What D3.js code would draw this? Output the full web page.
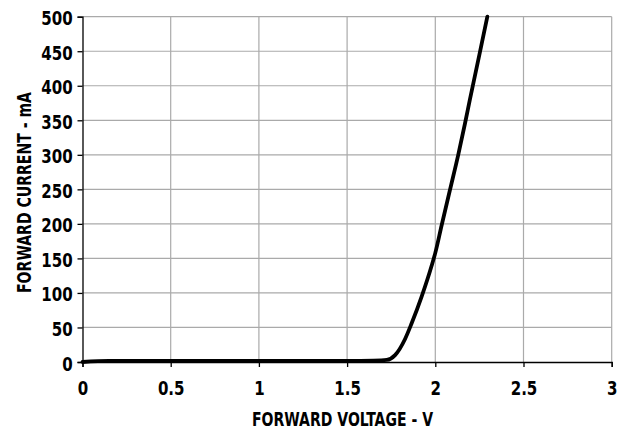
<!DOCTYPE html>
<html>
<head>
<meta charset="utf-8">
<script src="https://cdn.jsdelivr.net/npm/d3@7"></script>
<style>
  html, body { margin: 0; padding: 0; background: #fff; }
  svg text { font-family: "DejaVu Sans Condensed", "DejaVu Sans", sans-serif; font-weight: bold; fill: #000; }
</style>
</head>
<body>
<svg id="chart" width="623" height="431"></svg>
<script>
// Forward voltage (V) vs forward current (mA)
const voltage = [0, 0.15, 0.5, 1.0, 1.5, 1.65, 1.725, 1.772, 1.828, 1.866, 1.923, 1.98, 2.0, 2.036, 2.083, 2.13, 2.168, 2.196, 2.25, 2.295];
const current = [0, 1.5, 1.5, 1.5, 1.5, 2, 3, 10, 33, 56, 95, 140, 158, 198, 249, 300, 345, 380, 445, 500];

const xTicks = [0, 0.5, 1, 1.5, 2, 2.5, 3];
const yTicks = [0, 50, 100, 150, 200, 250, 300, 350, 400, 450, 500];

const xTitle = "FORWARD VOLTAGE - V";
const yTitle = "FORWARD CURRENT - mA";

const W = 623, H = 431;
const margin = { left: 82.5, right: 11.3, top: 16.7, bottom: 69 };
const svg = d3.select("#chart");
const x = d3.scaleLinear().domain([0, 3]).range([margin.left, W - margin.right]);
const y = d3.scaleLinear().domain([0, 500]).range([H - margin.bottom, margin.top]);

const gridColor = "#aaaaaa";
const squeeze = 0.88; // horizontal compression of tick label glyphs

// grid
svg.append("g").selectAll("line").data(xTicks.slice(1)).join("line")
  .attr("x1", d => x(d)).attr("x2", d => x(d))
  .attr("y1", y(0)).attr("y2", y(500))
  .attr("stroke", gridColor).attr("stroke-width", 1.2);
svg.append("g").selectAll("line").data(yTicks.slice(1)).join("line")
  .attr("x1", x(0)).attr("x2", x(3))
  .attr("y1", d => y(d)).attr("y2", d => y(d))
  .attr("stroke", gridColor).attr("stroke-width", 1.2);

// axes
const xAxis = svg.append("g").attr("transform", `translate(0,${y(0)})`)
  .call(d3.axisBottom(x).tickValues(xTicks).tickFormat(d3.format("")).tickSize(5));
const yAxis = svg.append("g").attr("transform", `translate(${x(0)},0)`)
  .call(d3.axisLeft(y).tickValues(yTicks).tickSize(5));
[xAxis, yAxis].forEach(g => {
  g.select(".domain").attr("stroke", "#000").attr("stroke-width", 1.3);
  g.selectAll(".tick line").attr("stroke", "#000").attr("stroke-width", 1.3);
  g.selectAll("text").attr("font-size", 19).attr("fill", "#000")
    .style("font-family", '"DejaVu Sans Condensed", "DejaVu Sans", sans-serif').style("font-weight", "bold")
    .attr("transform", `scale(${squeeze},1)`);
});
xAxis.selectAll("text").attr("y", 33).attr("dy", 0);
yAxis.selectAll("text").attr("x", -9.8 / squeeze).attr("y", 8).attr("dy", 0);

// curve
const pts = voltage.map((v, i) => [v, current[i]]);
svg.append("path").datum(pts)
  .attr("fill", "none").attr("stroke", "#000").attr("stroke-width", 3.8)
  .attr("stroke-linejoin", "round").attr("stroke-linecap", "round")
  .attr("d", d3.line().x(d => x(d[0])).y(d => y(d[1])).curve(d3.curveMonotoneX));

// titles
svg.append("text").attr("x", 342.5).attr("y", 426)
  .attr("text-anchor", "middle").attr("font-size", 19.5)
  .attr("textLength", 181).attr("lengthAdjust", "spacingAndGlyphs").text(xTitle);
svg.append("text").attr("transform", "translate(31,192.5) rotate(-90)")
  .attr("text-anchor", "middle").attr("font-size", 20)
  .attr("textLength", 201).attr("lengthAdjust", "spacingAndGlyphs").text(yTitle);
</script>
</body>
</html>
